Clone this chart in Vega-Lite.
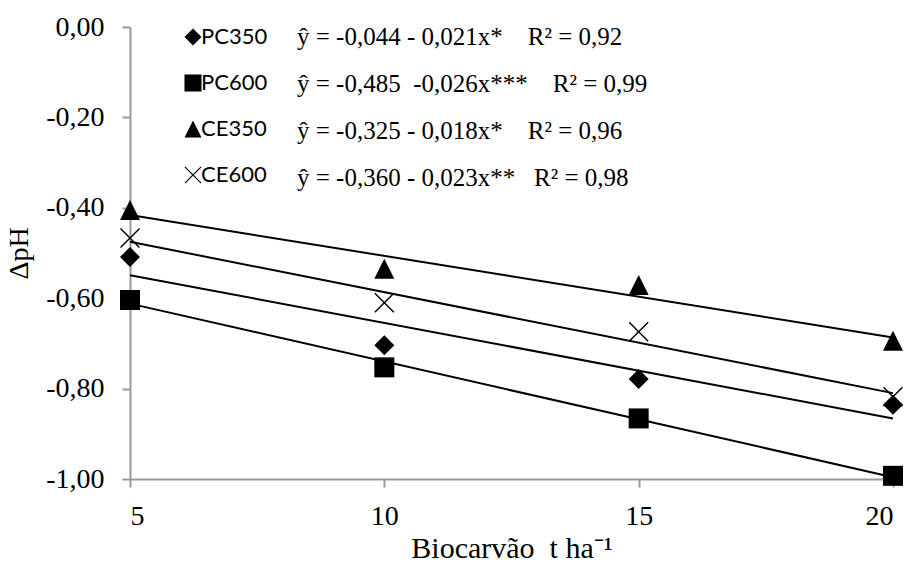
{
  "$schema": "https://vega.github.io/schema/vega-lite/v6.json",
  "width": 763,
  "height": 452,
  "autosize": {"type": "none"},
  "padding": {"left": 130, "top": 27, "right": 19, "bottom": 86},
  "background": "white",
  "config": {
    "view": {"stroke": null},
    "font": "Liberation Serif",
    "axis": {
      "grid": false,
      "domainColor": "#999999",
      "domainWidth": 2,
      "tickColor": "#999999",
      "tickWidth": 2,
      "tickSize": 8,
      "labelFont": "Liberation Serif",
      "labelFontSize": 28,
      "labelColor": "black",
      "titleFont": "Liberation Serif",
      "titleFontWeight": "normal",
      "titleColor": "black"
    }
  },
  "datasets": {
    "observado": [
      {"serie": "PC350", "dose": 5, "dph": -0.509},
      {"serie": "PC350", "dose": 10, "dph": -0.704},
      {"serie": "PC350", "dose": 15, "dph": -0.779},
      {"serie": "PC350", "dose": 20, "dph": -0.836},
      {"serie": "PC600", "dose": 5, "dph": -0.604},
      {"serie": "PC600", "dose": 10, "dph": -0.753},
      {"serie": "PC600", "dose": 15, "dph": -0.866},
      {"serie": "PC600", "dose": 20, "dph": -0.993},
      {"serie": "CE350", "dose": 5, "dph": -0.405},
      {"serie": "CE350", "dose": 10, "dph": -0.535},
      {"serie": "CE350", "dose": 15, "dph": -0.571},
      {"serie": "CE350", "dose": 20, "dph": -0.694},
      {"serie": "CE600", "dose": 5, "dph": -0.467},
      {"serie": "CE600", "dose": 10, "dph": -0.610},
      {"serie": "CE600", "dose": 15, "dph": -0.674},
      {"serie": "CE600", "dose": 20, "dph": -0.818}
    ],
    "ajustado": [
      {"equacao": "ŷ = -0,044 - 0,021x*\u00a0\u00a0\u00a0\u00a0R² = 0,92", "dose": 5, "ajuste": -0.549},
      {"equacao": "ŷ = -0,044 - 0,021x*\u00a0\u00a0\u00a0\u00a0R² = 0,92", "dose": 20, "ajuste": -0.866},
      {"equacao": "ŷ = -0,485\u00a0\u00a0-0,026x***\u00a0\u00a0\u00a0\u00a0R² = 0,99", "dose": 5, "ajuste": -0.612},
      {"equacao": "ŷ = -0,485\u00a0\u00a0-0,026x***\u00a0\u00a0\u00a0\u00a0R² = 0,99", "dose": 20, "ajuste": -0.996},
      {"equacao": "ŷ = -0,325 - 0,018x*\u00a0\u00a0\u00a0\u00a0R² = 0,96", "dose": 5, "ajuste": -0.416},
      {"equacao": "ŷ = -0,325 - 0,018x*\u00a0\u00a0\u00a0\u00a0R² = 0,96", "dose": 20, "ajuste": -0.687},
      {"equacao": "ŷ = -0,360 - 0,023x**\u00a0\u00a0\u00a0R² = 0,98", "dose": 5, "ajuste": -0.475},
      {"equacao": "ŷ = -0,360 - 0,023x**\u00a0\u00a0\u00a0R² = 0,98", "dose": 20, "ajuste": -0.810}
    ]
  },
  "encoding": {
    "x": {
      "field": "dose",
      "type": "quantitative",
      "scale": {"domain": [5, 20], "nice": false, "zero": false},
      "axis": {
        "values": [5, 10, 15, 20],
        "title": "Biocarvão\u00a0\u00a0t ha⁻¹",
        "titleFontSize": 30,
        "labelPadding": 15,
        "titlePadding": 3
      }
    }
  },
  "layer": [
    {
      "data": {"name": "ajustado"},
      "mark": {"type": "line", "strokeWidth": 2},
      "encoding": {
        "y": {
          "field": "ajuste",
          "type": "quantitative",
          "scale": {"domain": [-1, 0], "nice": false, "zero": false},
          "axis": {
            "values": [-1, -0.8, -0.6, -0.4, -0.2, 0],
            "labelExpr": "replace(replace(format(datum.value, '.2f'), '.', ','), '\u2212', '-')",
            "labelPadding": 18,
            "title": "ΔpH",
            "titleFontSize": 28,
            "titlePadding": 12
          }
        },
        "color": {
          "field": "equacao",
          "type": "nominal",
          "scale": {
            "domain": [
              "ŷ = -0,044 - 0,021x*\u00a0\u00a0\u00a0\u00a0R² = 0,92",
              "ŷ = -0,485\u00a0\u00a0-0,026x***\u00a0\u00a0\u00a0\u00a0R² = 0,99",
              "ŷ = -0,325 - 0,018x*\u00a0\u00a0\u00a0\u00a0R² = 0,96",
              "ŷ = -0,360 - 0,023x**\u00a0\u00a0\u00a0R² = 0,98"
            ],
            "range": ["black", "black", "black", "black"]
          },
          "legend": {
            "orient": "none",
            "legendX": 142,
            "legendY": -3,
            "title": null,
            "padding": 0,
            "symbolType": "circle",
            "symbolSize": 1,
            "symbolOpacity": 0,
            "labelOffset": 0,
            "labelFont": "Liberation Serif",
            "labelFontSize": 25,
            "labelColor": "black",
            "labelLimit": 600,
            "rowPadding": 21
          }
        }
      }
    },
    {
      "data": {"name": "observado"},
      "mark": {
        "type": "point",
        "filled": true,
        "color": "black",
        "strokeWidth": 0,
        "opacity": 1,
        "size": 400
      },
      "encoding": {
        "y": {"field": "dph", "type": "quantitative"},
        "shape": {
          "field": "serie",
          "type": "nominal",
          "scale": {
            "domain": ["PC350", "PC600", "CE350", "CE600"],
            "range": [
              "M0,-1L1,0L0,1L-1,0Z",
              "M-1,-1L1,-1L1,1L-1,1Z",
              "M0,-1L1,1L-1,1Z",
              "M-0.9,-1L0,-0.1L0.9,-1L1,-0.9L0.1,0L1,0.9L0.9,1L0,0.1L-0.9,1L-1,0.9L-0.1,0L-1,-0.9Z"
            ]
          },
          "legend": {
            "orient": "none",
            "legendX": 52,
            "legendY": -1,
            "title": null,
            "padding": 0,
            "symbolSize": 290,
            "symbolFillColor": "black",
            "symbolStrokeWidth": 0,
            "symbolOpacity": 1,
            "labelOffset": -3,
            "labelFont": "Lato",
            "labelFontSize": 22,
            "labelColor": "black",
            "rowPadding": 24,
            "encode": {
              "symbols": {
                "update": {
                  "fill": {"value": "black"},
                  "fillOpacity": {"value": 1},
                  "strokeWidth": {"value": 0}
                }
              }
            }
          }
        }
      }
    }
  ]
}
